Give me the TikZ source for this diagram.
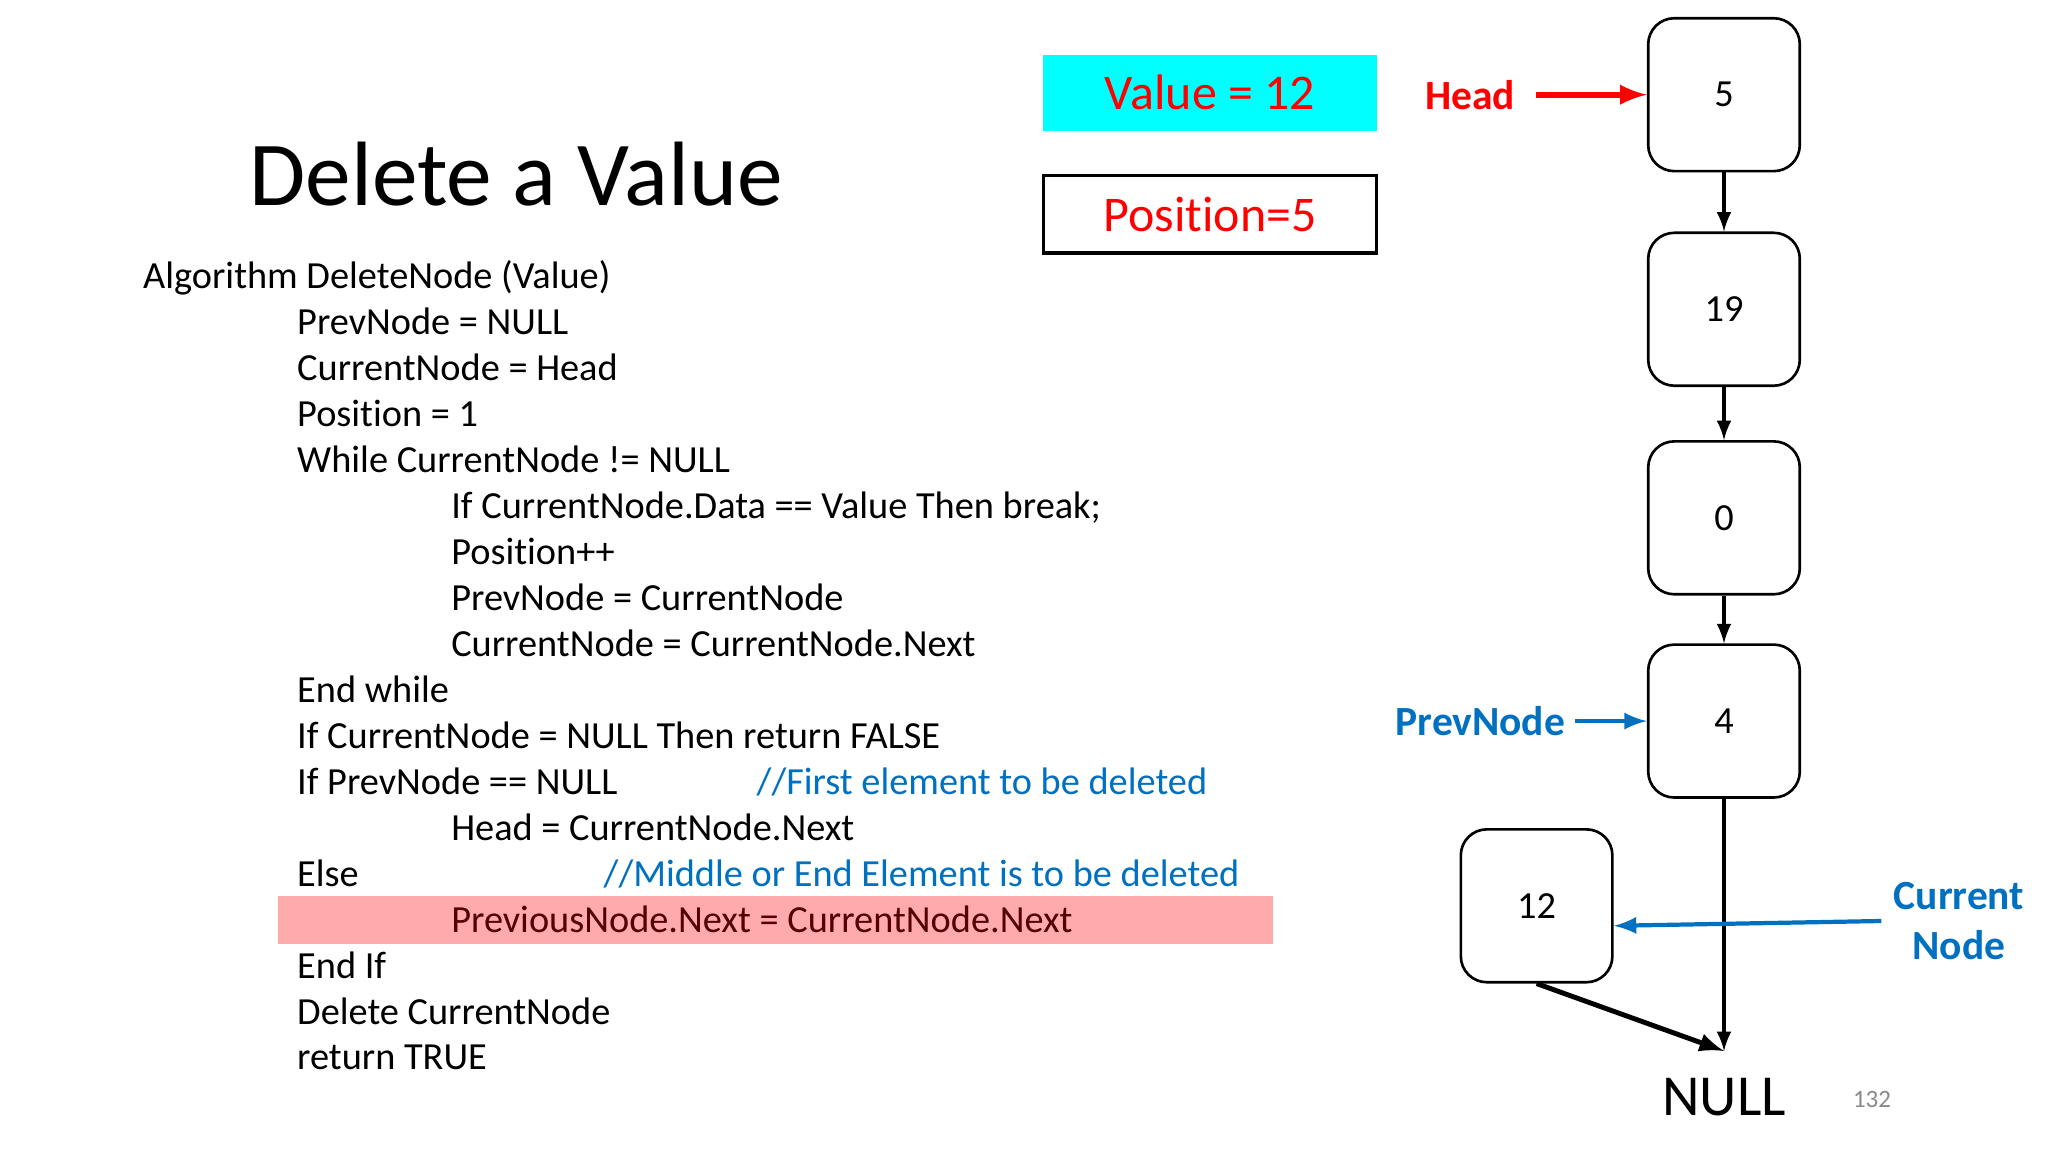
\documentclass[tikz,border=0pt]{standalone}
\usepackage{fontspec}
\setmainfont{Carlito}[Ligatures={NoCommon,NoContextual}]
\usepackage{tikz}
\usetikzlibrary{positioning, arrows}

\definecolor{slblue}{RGB}{0,112,192}
\definecolor{slgray}{RGB}{137,137,137}
\definecolor{aqua}{RGB}{0,255,255}

\begin{document}
\begin{tikzpicture}[x=0.01cm, y=-0.01cm]
    \tikzstyle{box} = [rectangle, rounded corners=0.26cm, minimum width=1.515cm, minimum height=1.528cm, draw, line width=0.75pt, font=\fontsize{10.9}{13}\selectfont]
    \tikzstyle{code} = [anchor=base west, inner sep=0pt, font=\fontsize{10.9}{13}\selectfont]
    \tikzstyle{lbl} = [font=\fontsize{11.8}{14.2}\selectfont\bfseries, align=center]
    \tikzstyle{arrow} = [line width=0.9pt,->,>=latex]
    \useasboundingbox (0,0) rectangle (2048,1152);
        % title and pseudo code
        \node (ttl) at (516,206) [anchor=base, font=\fontsize{26}{30}\selectfont] {Delete a Value};
        \foreach \lv/\txt [count=\i] in {0/Algorithm DeleteNode (Value), 1/PrevNode = NULL, 1/CurrentNode = Head,
            1/Position = 1, 1/While CurrentNode != NULL, 2/If CurrentNode.Data == Value Then break;, 2/Position++,
            2/PrevNode = CurrentNode, 2/CurrentNode = CurrentNode.Next, 1/End while, 1/If CurrentNode = NULL Then return FALSE,
            1/If PrevNode == NULL, 2/Head = CurrentNode.Next, 1/Else, 2/PreviousNode.Next = CurrentNode.Next,
            1/End If, 1/Delete CurrentNode, 1/return TRUE}
            \node (l\i) [code] at (142.4+154.1*\lv, 243.06+45.94*\i) {\txt};
        \node (c1) [code, text=slblue] at (756,794.3) {//First element to be deleted};
        \node (c2) [code, text=slblue] at (603,886.2) {//Middle or End Element is to be deleted};
        \fill[red, opacity=0.33] (278,896) rectangle (1273,944);
        % value and position
        \node (val) at (1210,92.7) [fill=aqua, minimum width=3.33cm, minimum height=0.757cm, text=red, font=\fontsize{14.2}{17}\selectfont] {Value = 12};
        \node (pos) [below=0.43cm of val, draw, line width=0.9pt, minimum width=3.33cm, minimum height=0.77cm, text=red, font=\fontsize{14.2}{17}\selectfont] {Position=5};
        % list
        \node (n5) at (1724,94.7) [box] {5};
        \node (n19) [box, below=0.59cm of n5] {19};
        \node (n0) [box, below=0.53cm of n19] {0};
        \node (n4) [box, below=0.477cm of n0] {4};
        \node (n12) at (1536.6,905.8) [box] {12};
        \coordinate (nt) at (1724,1051);
        \node (nl) at (1724,1115) [anchor=base, font=\fontsize{16.5}{20}\selectfont] {NULL};
        \node (pg) at (1872,1107) [anchor=base, text=slgray, font=\fontsize{7.1}{8}\selectfont] {132};
        % pointers
        \node (hd) [lbl, text=red, left=1.11cm of n5, inner sep=0.2cm] {Head};
        \node (pn) [lbl, text=slblue, left=0.72cm of n4, inner sep=0.09cm] {PrevNode};
        \node (cn) at (1959,921) [lbl, text=slblue] {Current\\Node};
        \draw[arrow] (n5) -- (n19);
        \draw[arrow] (n19) -- (n0);
        \draw[arrow] (n0) -- (n4);
        \draw[arrow] (n4) -- (nt);
        \draw[arrow, line width=1.4pt] (n12.south) -- (nt);
        \draw[arrow, red, line width=1.6pt] (hd) -- (n5);
        \draw[arrow, slblue, line width=1.2pt] (pn) -- (n4);
        \draw[arrow, slblue, line width=1.2pt] (cn.west) -- ([yshift=-0.2cm]n12.east);
\end{tikzpicture}
\end{document}
